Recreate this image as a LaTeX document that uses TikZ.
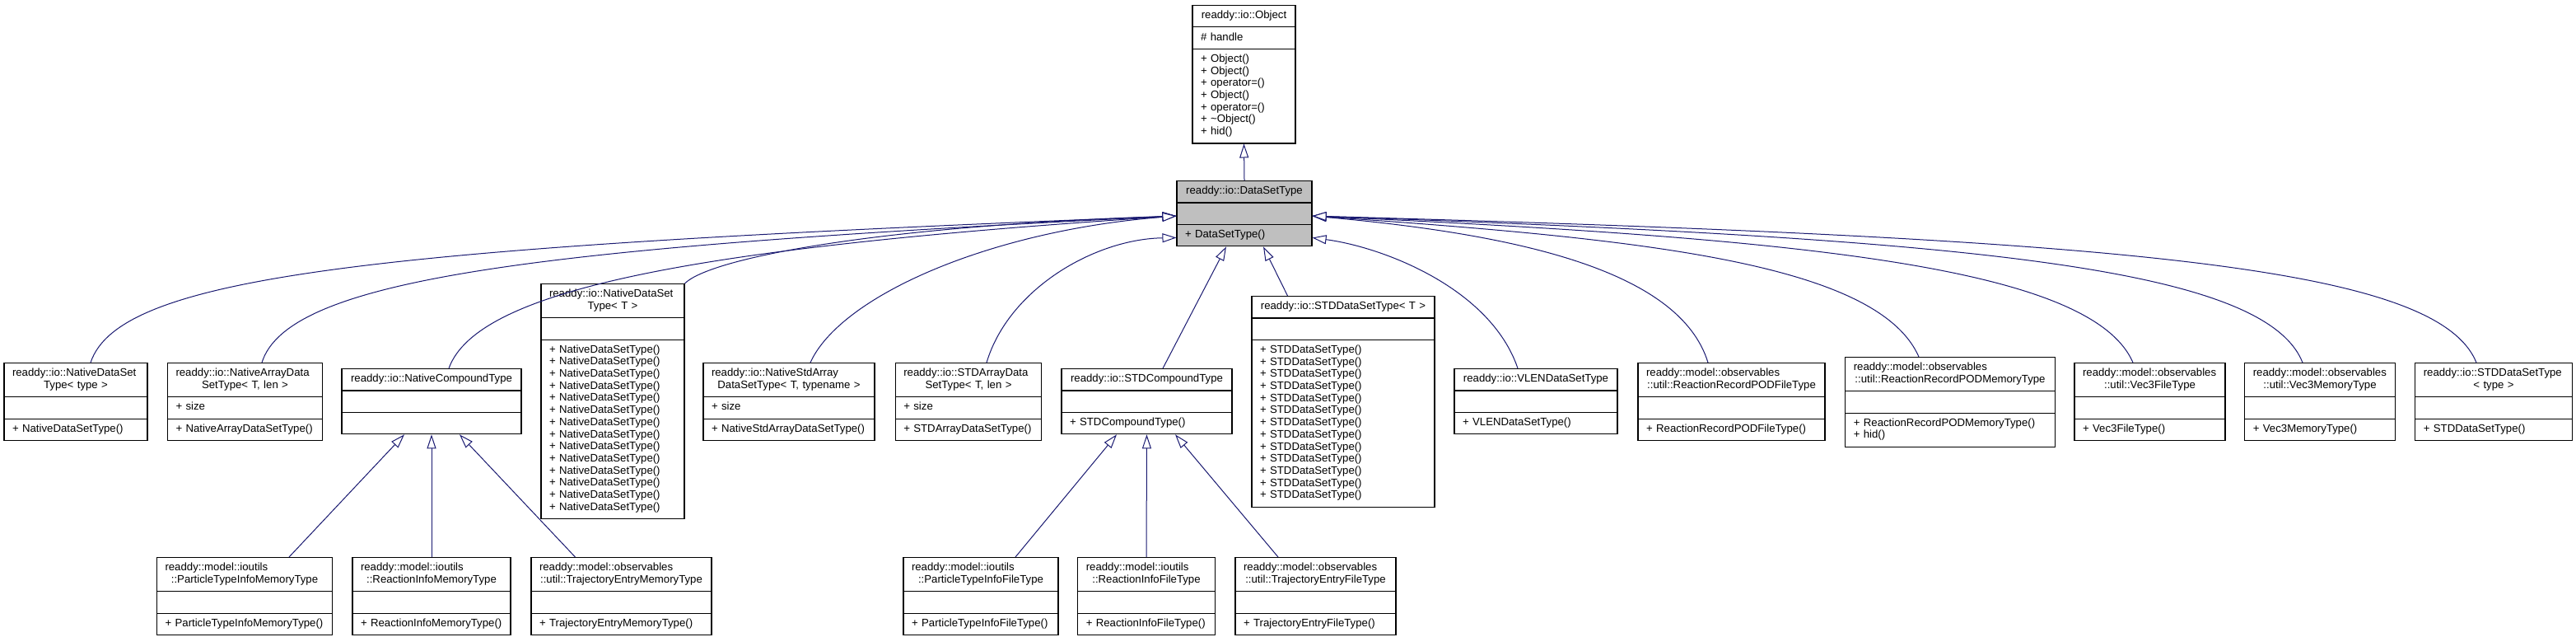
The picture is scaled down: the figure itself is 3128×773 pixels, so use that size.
\documentclass[tikz,border=0pt]{standalone}
\usepackage{fontspec}
\setmainfont{Liberation Sans}
\usetikzlibrary{shapes.multipart,arrows.meta}
\definecolor{edgeblue}{RGB}{25,25,112}
\definecolor{basegray}{RGB}{191,191,191}
\newcommand{\firstline}[1]{\makebox[\linewidth][l]{\strut #1}}
\begin{document}
\begin{tikzpicture}[x=1pt, y=-1pt,
  every node/.style={font=\fontsize{13.2}{14.7}\selectfont},
  classbox/.style={rectangle split, rectangle split parts=3, draw,
    line width=1.1pt, fill=white, anchor=north, inner xsep=10pt,
    inner ysep=5.3pt, text width=#1pt-20pt},
  inherit/.style={draw=edgeblue, line width=1pt,
    -{Triangle[length=17pt, width=11pt, fill=white]}},
]
\useasboundingbox (0,0) rectangle (3128,773);

% Base classes
\node[classbox=125] (obj) at (1510.5,6)
  {{\centering\strut readdy::io::Object\par}
   \nodepart{two}\strut\# handle
   \nodepart{three}\strut+ Object()\\+ Object()\\+ operator=()\\+ Object()\\+ operator=()\\+ \textasciitilde Object()\\\strut+ hid()};
\node[classbox=164, fill=basegray] (dst) at (1511,219)
  {{\centering\strut readdy::io::DataSetType\par}
   \nodepart{two}\strut
   \nodepart{three}\strut+ DataSetType()};

% Direct subclasses
\node[classbox=174] (ndsType) at (92,440)
  {{\centering\firstline{readdy::io::NativeDataSet}\\\strut Type< type >\par}
   \nodepart{two}\strut
   \nodepart{three}\strut+ NativeDataSetType()};
\node[classbox=188] (ndsArr) at (297.5,440)
  {{\centering\firstline{readdy::io::NativeArrayData}\\\strut SetType< T, len >\par}
   \nodepart{two}\strut+ size
   \nodepart{three}\strut+ NativeArrayDataSetType()};
\node[classbox=218] (ncomp) at (524,447)
  {{\centering\strut readdy::io::NativeCompoundType\par}
   \nodepart{two}\strut
   \nodepart{three}\strut};
\node[classbox=174] (ndsT) at (744,344)
  {{\centering\firstline{readdy::io::NativeDataSet}\\\strut Type< T >\par}
   \nodepart{two}\strut
   \nodepart{three}\strut+ NativeDataSetType()\\+ NativeDataSetType()\\+ NativeDataSetType()\\+ NativeDataSetType()\\+ NativeDataSetType()\\+ NativeDataSetType()\\+ NativeDataSetType()\\+ NativeDataSetType()\\+ NativeDataSetType()\\+ NativeDataSetType()\\+ NativeDataSetType()\\+ NativeDataSetType()\\+ NativeDataSetType()\\\strut+ NativeDataSetType()};
\node[classbox=208] (nstdArr) at (958,440)
  {{\centering\firstline{readdy::io::NativeStdArray}\\\strut DataSetType< T, typename >\par}
   \nodepart{two}\strut+ size
   \nodepart{three}\strut+ NativeStdArrayDataSetType()};
\node[classbox=177.5] (stdArr) at (1176,440)
  {{\centering\firstline{readdy::io::STDArrayData}\\\strut SetType< T, len >\par}
   \nodepart{two}\strut+ size
   \nodepart{three}\strut+ STDArrayDataSetType()};
\node[classbox=207] (stdComp) at (1392.5,447)
  {{\centering\strut readdy::io::STDCompoundType\par}
   \nodepart{two}\strut
   \nodepart{three}\strut+ STDCompoundType()};
\node[classbox=222] (stdT) at (1631,359)
  {{\centering\strut readdy::io::STDDataSetType< T >\par}
   \nodepart{two}\strut
   \nodepart{three}\strut+ STDDataSetType()\\+ STDDataSetType()\\+ STDDataSetType()\\+ STDDataSetType()\\+ STDDataSetType()\\+ STDDataSetType()\\+ STDDataSetType()\\+ STDDataSetType()\\+ STDDataSetType()\\+ STDDataSetType()\\+ STDDataSetType()\\+ STDDataSetType()\\\strut+ STDDataSetType()};
\node[classbox=198] (vlen) at (1865,447)
  {{\centering\strut readdy::io::VLENDataSetType\par}
   \nodepart{two}\strut
   \nodepart{three}\strut+ VLENDataSetType()};
\node[classbox=227] (rrFile) at (2102.5,440)
  {{\centering\firstline{readdy::model::observables}\\\strut ::util::ReactionRecordPODFileType\par}
   \nodepart{two}\strut
   \nodepart{three}\strut+ ReactionRecordPODFileType()};
\node[classbox=254.5] (rrMem) at (2368,433)
  {{\centering\firstline{readdy::model::observables}\\\strut ::util::ReactionRecordPODMemoryType\par}
   \nodepart{two}\strut
   \nodepart{three}\strut+ ReactionRecordPODMemoryType()\\\strut+ hid()};
\node[classbox=183] (v3File) at (2610.5,440)
  {{\centering\firstline{readdy::model::observables}\\\strut ::util::Vec3FileType\par}
   \nodepart{two}\strut
   \nodepart{three}\strut+ Vec3FileType()};
\node[classbox=182.5] (v3Mem) at (2817,440)
  {{\centering\firstline{readdy::model::observables}\\\strut ::util::Vec3MemoryType\par}
   \nodepart{two}\strut
   \nodepart{three}\strut+ Vec3MemoryType()};
\node[classbox=190.5] (stdType) at (3028,440)
  {{\centering\firstline{readdy::io::STDDataSetType}\\\strut < type >\par}
   \nodepart{two}\strut
   \nodepart{three}\strut+ STDDataSetType()};

% Compound type subclasses
\node[classbox=213] (ptiMem) at (297,676)
  {{\centering\firstline{readdy::model::ioutils}\\\strut ::ParticleTypeInfoMemoryType\par}
   \nodepart{two}\strut
   \nodepart{three}\strut+ ParticleTypeInfoMemoryType()};
\node[classbox=192] (riMem) at (524,676)
  {{\centering\firstline{readdy::model::ioutils}\\\strut ::ReactionInfoMemoryType\par}
   \nodepart{two}\strut
   \nodepart{three}\strut+ ReactionInfoMemoryType()};
\node[classbox=219] (teMem) at (754.5,676)
  {{\centering\firstline{readdy::model::observables}\\\strut ::util::TrajectoryEntryMemoryType\par}
   \nodepart{two}\strut
   \nodepart{three}\strut+ TrajectoryEntryMemoryType()};
\node[classbox=188] (ptiFile) at (1191,676)
  {{\centering\firstline{readdy::model::ioutils}\\\strut ::ParticleTypeInfoFileType\par}
   \nodepart{two}\strut
   \nodepart{three}\strut+ ParticleTypeInfoFileType()};
\node[classbox=166.5] (riFile) at (1392,676)
  {{\centering\firstline{readdy::model::ioutils}\\\strut ::ReactionInfoFileType\par}
   \nodepart{two}\strut
   \nodepart{three}\strut+ ReactionInfoFileType()};
\node[classbox=195] (teFile) at (1597.5,676)
  {{\centering\firstline{readdy::model::observables}\\\strut ::util::TrajectoryEntryFileType\par}
   \nodepart{two}\strut
   \nodepart{three}\strut+ TrajectoryEntryFileType()};

% Inheritance: base chain
\draw[inherit] (dst.north) -- (obj.south);

% Inheritance: left side of DataSetType
\draw[inherit] ([xshift=18pt]ndsType.north) .. controls (145,335) and (450,300) .. (dst.west |- dst.two);
\draw[inherit] ([xshift=20.5pt]ndsArr.north) .. controls (350,338) and (650,300) .. (dst.west |- dst.two);
\draw[inherit] ([xshift=21pt]ncomp.north) .. controls (580,350) and (850,300) .. (dst.west |- dst.two);
\draw[inherit] (ndsT.north east) .. controls (860,315) and (1050,275) .. (dst.west |- dst.two);
\draw[inherit] ([xshift=26pt]nstdArr.north) .. controls (1020,360) and (1200,280) .. (dst.west |- dst.two);
\draw[inherit] ([xshift=22pt]stdArr.north) .. controls (1225,350) and (1330,290) .. (dst.west |- dst.three);

% Inheritance: below DataSetType
\draw[inherit] ([xshift=19.5pt]stdComp.north) -- ([xshift=-22pt]dst.south);
\draw[inherit] ([xshift=-67.5pt]stdT.north) -- ([xshift=23pt]dst.south);

% Inheritance: right side of DataSetType
\draw[inherit] ([xshift=-22pt]vlen.north) .. controls (1810,350) and (1680,300) .. (dst.east |- dst.three);
\draw[inherit] ([xshift=-28.5pt]rrFile.north) .. controls (2040,330) and (1850,285) .. (dst.east |- dst.two);
\draw[inherit] ([xshift=-38pt]rrMem.north) .. controls (2280,320) and (2000,290) .. (dst.east |- dst.two);
\draw[inherit] ([xshift=-20.5pt]v3File.north) .. controls (2540,325) and (2200,290) .. (dst.east |- dst.two);
\draw[inherit] ([xshift=-21pt]v3Mem.north) .. controls (2750,325) and (2400,290) .. (dst.east |- dst.two);
\draw[inherit] ([xshift=-21pt]stdType.north) .. controls (2960,325) and (2600,290) .. (dst.east |- dst.two);

% Inheritance: compound types
\draw[inherit] ([xshift=54pt]ptiMem.north) -- ([xshift=-33pt]ncomp.south);
\draw[inherit] (riMem.north) -- (ncomp.south);
\draw[inherit] ([xshift=-56pt]teMem.north) -- ([xshift=34pt]ncomp.south);
\draw[inherit] ([xshift=42pt]ptiFile.north) -- ([xshift=-36.5pt]stdComp.south);
\draw[inherit] (riFile.north) -- (stdComp.south);
\draw[inherit] ([xshift=-45.5pt]teFile.north) -- ([xshift=34.5pt]stdComp.south);

\end{tikzpicture}
\end{document}
